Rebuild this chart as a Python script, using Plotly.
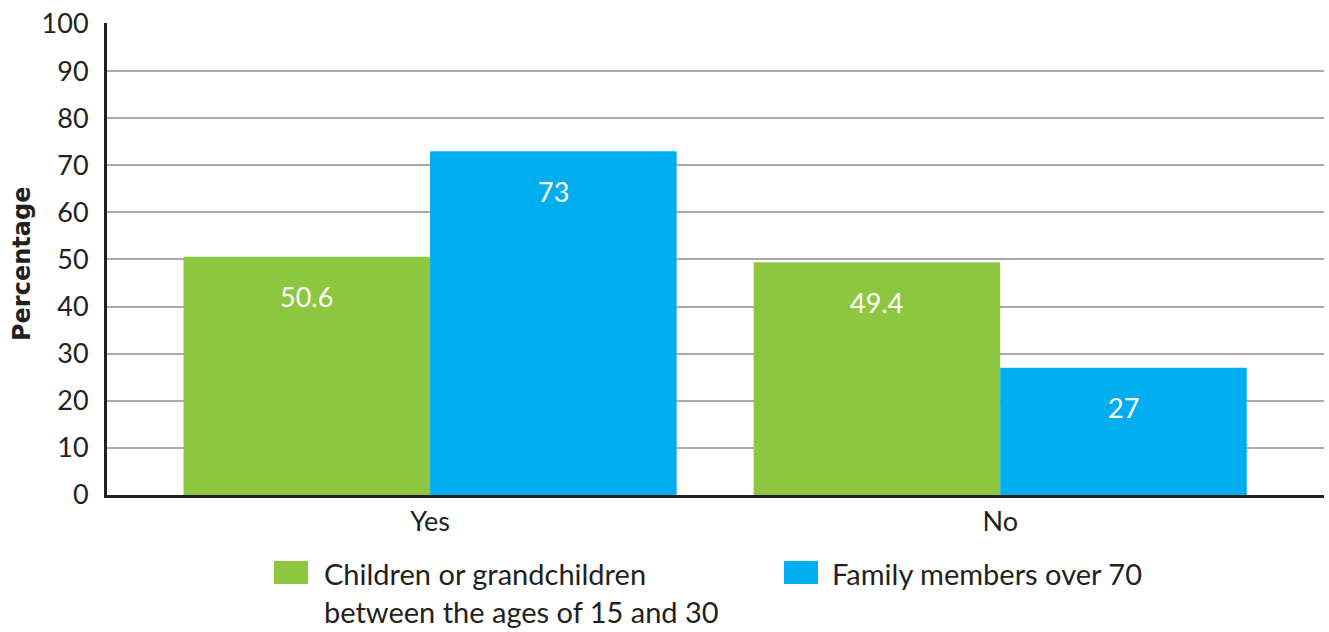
import plotly.graph_objects as go

categories = ["Yes", "No"]
series_names = ["Children or grandchildren<br>between the ages of 15 and 30", "Family members over 70"]
children_values = [50.6, 49.4]
elderly_values = [73, 27]
y_ticks = [0, 10, 20, 30, 40, 50, 60, 70, 80, 90, 100]

colors = ["#8DC63F", "#00AEEF"]
text_color = "#231F20"
font_family = "Lato, 'Open Sans', sans-serif"

W, H = 1329, 632
L, R, T, B = 107, 1324, 23, 495  # plot area in pixels
Y_MAX = 100.2


def px_x(px):
    return (px - L) / (R - L)


def px_y(py):
    return (B - py) / (B - T)


x_pos = list(range(len(categories)))
fig = go.Figure()
for name, vals, col in zip(series_names, [children_values, elderly_values], colors):
    fig.add_trace(go.Bar(x=x_pos, y=vals, name=name, marker=dict(color=col, line=dict(width=0)),
                         showlegend=False, hoverinfo="y"))

bar_w = 0.4325
annotations = []
for i, vals in enumerate([children_values, elderly_values]):
    off = (i - 0.5) * bar_w
    for xi, v in zip(x_pos, vals):
        annotations.append(dict(x=xi + off, y=v, xref="x", yref="y", text=f"{v:g}", showarrow=False,
                                yshift=-40, yanchor="middle",
                                font=dict(family=font_family, size=27, color="white")))

# y-axis title
annotations.append(dict(x=px_x(22), y=px_y(264), xref="paper", yref="paper", text="<b>Percentage</b>",
                        textangle=-90, showarrow=False, xanchor="center", yanchor="middle",
                        font=dict(family="'DejaVu Sans', sans-serif", size=24, color=text_color)))

# manual legend
shapes = []
legend_px = [(274, 308, 322), (784, 818, 830)]
for (sx0, sx1, tx), name, col in zip(legend_px, series_names, colors):
    shapes.append(dict(type="rect", xref="paper", yref="paper", x0=px_x(sx0), x1=px_x(sx1),
                       y0=px_y(584), y1=px_y(561), fillcolor=col, line=dict(width=0)))
    annotations.append(dict(x=px_x(tx), y=px_y(554), xref="paper", yref="paper", text=name,
                            showarrow=False, xanchor="left", yanchor="top", align="left",
                            font=dict(family=font_family, size=29, color=text_color)))

fig.update_layout(
    width=W, height=H,
    margin=dict(l=L, r=W - R, t=T, b=H - B, pad=0, autoexpand=False),
    paper_bgcolor="white", plot_bgcolor="white",
    barmode="group", bargap=0.135, bargroupgap=0,
    font=dict(family=font_family, size=27, color=text_color),
    annotations=annotations, shapes=shapes,
    xaxis=dict(tickmode="array", tickvals=x_pos, ticktext=categories,
               range=[-0.5667, 1.568], showgrid=False, zeroline=False, automargin=False,
               showline=True, linecolor=text_color, linewidth=3, ticks="",
               ticklabelstandoff=1, tickfont=dict(size=27, color=text_color)),
    yaxis=dict(range=[0, Y_MAX], tickmode="array", tickvals=y_ticks, showgrid=True,
               gridcolor="#A7A9AC", gridwidth=1.5, zeroline=False, automargin=False,
               showline=True, linecolor=text_color, linewidth=3, ticks="",
               ticklabelstandoff=10, ticklabeloverflow="allow",
               tickfont=dict(size=27, color=text_color)),
)

fig.write_html("out.html", config={"displayModeBar": False},
               post_script="document.body.style.margin='0';document.body.style.overflow='hidden';")
